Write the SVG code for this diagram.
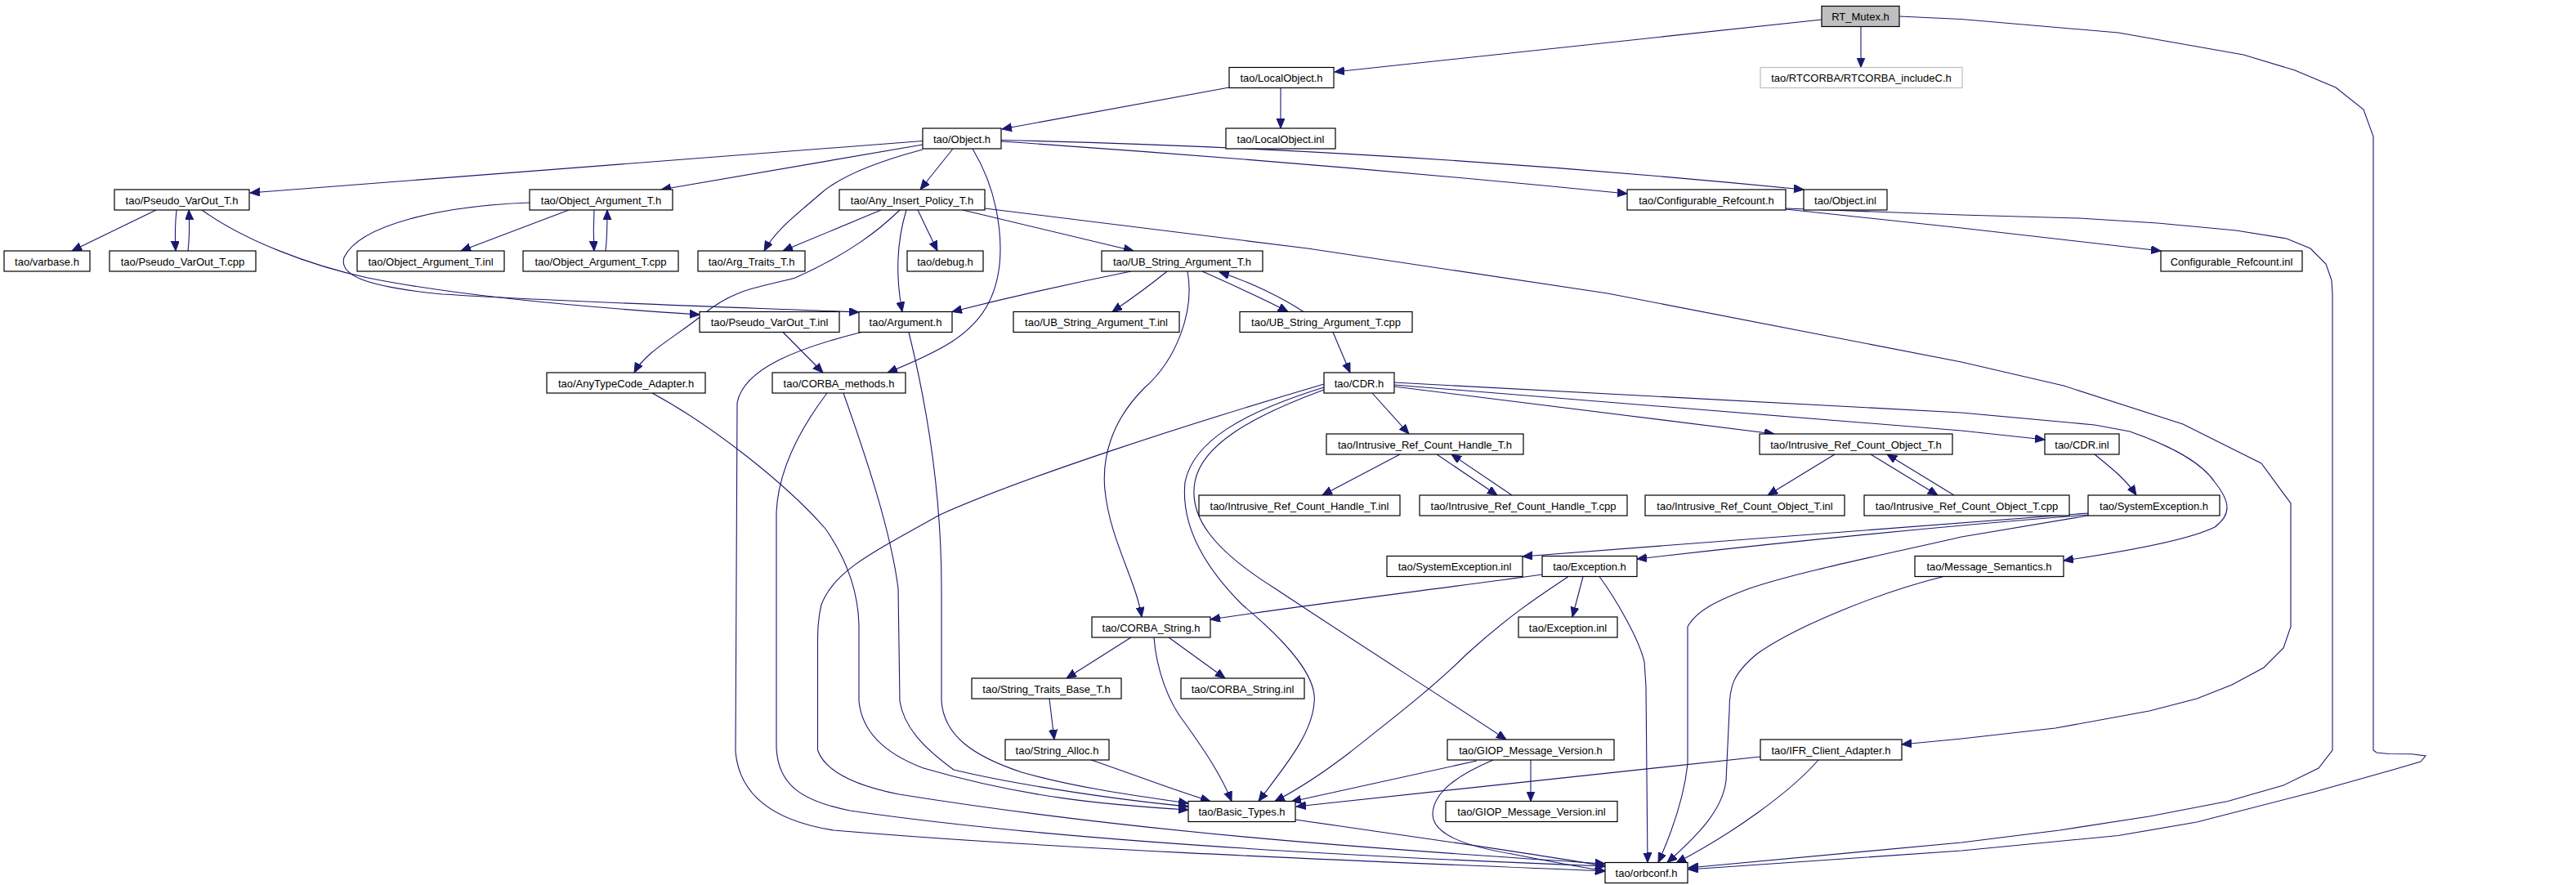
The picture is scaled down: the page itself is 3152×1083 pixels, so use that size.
<svg xmlns="http://www.w3.org/2000/svg" width="3152" height="1083" viewBox="0 0 3152 1083">
<defs>
<marker id="a" markerUnits="userSpaceOnUse" markerWidth="13" markerHeight="11" refX="12" refY="5" orient="auto">
<path d="M0,0 L12,5 L0,10 z" fill="#191970" stroke="#191970" stroke-width="1"/>
</marker>
</defs>
<style>
.n rect{fill:#ffffff;stroke:#000000;stroke-width:1.2}
.n text{font-family:"Liberation Sans",Arial,sans-serif;font-size:13px;text-anchor:middle;fill:#000000}
#edges path{fill:none;stroke:#191970;stroke-width:1.1;marker-end:url(#a)}
</style>
<rect x="0" y="0" width="3152" height="1083" fill="#ffffff"/>
<g id="edges">
<path d="M2229,24 L1633,88"/>
<path d="M2277,32.5 L2277,82.5"/>
<path d="M2324,20 L2400,23.5 L2592,40 L2745,67 L2808,86 L2858,107 L2892,134 L2904,167 L2904,918 L2908,921 L2923,922.5 L2951,922.7 L2968,925 L2962,932 L2928,942 L2832,969 L2688,1006 L2592,1022.5 L2400,1041 L2066,1064"/>
<path d="M1504,107 L1226,158"/>
<path d="M1567,107.5 L1567,157"/>
<path d="M1129,172.5 L306,236"/>
<path d="M1129,177 L809,232"/>
<path d="M1129,183 C1080,196 1030,214 1004,237 S950,280 935,307"/>
<path d="M1166,182 L1126,232"/>
<path d="M1190,182 C1225,240 1235,320 1210,370 C1190,410 1150,430 1086,456"/>
<path d="M1225,171.5 Q1700,182 2207,232"/>
<path d="M1225,173 Q1620,200 1991,237"/>
<path d="M191,257 L88,307"/>
<path d="M216,257 C214,275 214,290 215,307"/>
<path d="M230,307 C232,290 232,275 231,257"/>
<path d="M247,257 C300,295 380,325 450,340 C560,362 700,375 856,385"/>
<path d="M648,248 C540,252 440,275 421,315 C415,335 440,350 541,360 C700,370 900,376 1051,382"/>
<path d="M696,257 L564,307"/>
<path d="M727,257 C726,275 726,290 727,307"/>
<path d="M741,307 C743,290 743,275 743,257"/>
<path d="M1078,257 L958,307"/>
<path d="M1101,257 C1075,282 1040,310 973,340 C930,352 900,352 860,385 C830,410 790,430 776,456"/>
<path d="M1109,257 C1096,300 1096,340 1104,381.5"/>
<path d="M1123,257 L1147,307"/>
<path d="M1178,257 L1387,307"/>
<path d="M1205,255 L1600,304 L1967,359 L2400,443 L2525,472 L2671,519 L2767,567 L2803,616 L2803,767 L2794,793 L2770,817 L2731,838 L2688,855 L2630,870 L2515,891 L2400,904 L2327,911"/>
<path d="M2185,256 L2400,279 L2644,307"/>
<path d="M2185,255 L2400,263 L2544,267 L2640,273 L2736,282 L2798,292 L2827,304 L2846,323 L2853,343 L2854,360 L2854,918 L2837,940 L2794,961 L2726,980.5 L2630,999 L2520,1016 L2400,1031 L2066,1062"/>
<path d="M958,406.5 L1007,456"/>
<path d="M1054,406.5 C980,425 910,450 902,493 L900,920 C905,975 950,1005 1020,1016 C1300,1040 1700,1055 1964,1066"/>
<path d="M1112,406.5 C1140,520 1152,620 1152,720 L1152,858 C1155,900 1190,925 1250,945 C1320,965 1400,975 1454,983"/>
<path d="M798,481 C870,520 960,590 1010,647 C1040,690 1050,730 1051,764 L1051,858 C1055,900 1090,925 1130,940 C1250,975 1350,985 1454,991"/>
<path d="M1012,481 C975,530 952,580 950,627 L950,915 C952,960 980,980 1040,992 C1300,1030 1700,1050 1964,1060"/>
<path d="M1032,481 C1060,560 1090,650 1099,720 L1101,858 C1106,890 1130,915 1167,942 C1250,962 1380,980 1454,987"/>
<path d="M1620,470 C1450,520 1250,585 1150,630 C1060,680 1020,700 1005,740 C1000,760 1000.5,780 1000.5,800 L1000.5,918 C1010,945 1050,962 1100,972 C1400,1020 1700,1040 1964,1057"/>
<path d="M1620,474 C1520,505 1460,540 1450,590 C1445,640 1470,690 1520,740 C1580,790 1612,830 1608,860 C1605,900 1570,940 1540,980.5"/>
<path d="M1620,477 C1530,510 1470,545 1462,590 C1455,630 1480,670 1560,720 C1650,780 1760,850 1843,905"/>
<path d="M1679,481 L1724,531"/>
<path d="M1706,473 L2171,531"/>
<path d="M1706,471 L2400,527 L2502,538"/>
<path d="M1706,468 L2400,505 L2563,520 L2606,528 C2640,540 2690,560 2710,590 C2730,615 2730,630 2710,645 C2680,660 2600,675 2525,686"/>
<path d="M1384,332 Q1270,355 1165,381.5"/>
<path d="M1428,332 Q1400,355 1361,381.5"/>
<path d="M1453,332 C1462,380 1440,440 1400,475 C1360,515 1348,560 1352,600 C1358,660 1390,710 1397,755"/>
<path d="M1471,332 C1500,345 1545,365 1576,381.5"/>
<path d="M1595,381.5 C1570,365 1530,345 1492,333"/>
<path d="M1631,406.5 L1652,456"/>
<path d="M1713,556 L1618,606"/>
<path d="M1758,556 L1832,606"/>
<path d="M1850,606 L1776,556"/>
<path d="M2245,556 L2163,606"/>
<path d="M2289,556 L2371,606"/>
<path d="M2391,606 L2309,556"/>
<path d="M2563,556 C2580,570 2600,585 2614,606"/>
<path d="M2555,628 L1863,681"/>
<path d="M2555,630 Q2300,650 2003,684"/>
<path d="M2555,631 L2400,657 C2300,680 2200,700 2141,720 C2100,735 2075,748 2065,767 L2065,935 C2060,980 2045,1020 2029,1055.5"/>
<path d="M1887,703 C1750,722 1600,740 1481,758"/>
<path d="M1937,705.5 L1924,755"/>
<path d="M1957,705.5 C1975,730 2005,780 2012,810 L2014,840 L2016,1055.5"/>
<path d="M1919,705.5 C1890,725 1850,750 1794,801 C1750,845 1690,890 1650,922 C1620,945 1590,965 1560,980.5"/>
<path d="M2378,705.5 C2300,725 2200,765 2150,800 C2120,825 2116,840 2116,870 L2112,955 C2108,990 2080,1020 2040,1055.5"/>
<path d="M2225,930 C2190,970 2120,1020 2051,1056"/>
<path d="M2154,926 L1586,987"/>
<path d="M1873,930 L1873,980.5"/>
<path d="M1807,931 L1580,981"/>
<path d="M1827,930 C1780,950 1755,970 1753,995 C1752,1020 1790,1035 1850,1045 C1900,1055 1940,1062 1964,1066"/>
<path d="M1585,1003 C1700,1020 1850,1040 1964,1060"/>
<path d="M1384,780 L1305,830"/>
<path d="M1430,780 L1499,830"/>
<path d="M1412,780 C1415,820 1430,860 1450,885 C1475,920 1495,950 1507,980.5"/>
<path d="M1284,855 L1290,905"/>
<path d="M1335,930 C1380,945 1430,965 1481,980.5"/>
</g>
<g id="n_rtmutex" class="n"><rect x="2229" y="7.5" width="95" height="25" style="fill:#bfbfbf"/><text x="2276.5" y="25">RT_Mutex.h</text></g>
<g id="n_localobject_h" class="n"><rect x="1504" y="82.5" width="128" height="25"/><text x="1568" y="100">tao/LocalObject.h</text></g>
<g id="n_rtcorba" class="n"><rect x="2154" y="82.5" width="247" height="25" style="stroke:#bfbfbf"/><text x="2277.5" y="100">tao/RTCORBA/RTCORBA_includeC.h</text></g>
<g id="n_object_h" class="n"><rect x="1129" y="157" width="96" height="25"/><text x="1177" y="174.5">tao/Object.h</text></g>
<g id="n_localobject_inl" class="n"><rect x="1500" y="157" width="134" height="25"/><text x="1567" y="174.5">tao/LocalObject.inl</text></g>
<g id="n_pseudo_h" class="n"><rect x="140" y="232" width="165" height="25"/><text x="222.5" y="249.5">tao/Pseudo_VarOut_T.h</text></g>
<g id="n_objarg_h" class="n"><rect x="648" y="232" width="175" height="25"/><text x="735.5" y="249.5">tao/Object_Argument_T.h</text></g>
<g id="n_anyins_h" class="n"><rect x="1027" y="232" width="178" height="25"/><text x="1116" y="249.5">tao/Any_Insert_Policy_T.h</text></g>
<g id="n_confref_h" class="n"><rect x="1991" y="232" width="194" height="25"/><text x="2088" y="249.5">tao/Configurable_Refcount.h</text></g>
<g id="n_object_inl" class="n"><rect x="2207" y="232" width="102" height="25"/><text x="2258" y="249.5">tao/Object.inl</text></g>
<g id="n_varbase" class="n"><rect x="5" y="307" width="105" height="25"/><text x="57.5" y="324.5">tao/varbase.h</text></g>
<g id="n_pseudo_cpp" class="n"><rect x="134" y="307" width="179" height="25"/><text x="223.5" y="324.5">tao/Pseudo_VarOut_T.cpp</text></g>
<g id="n_objarg_inl" class="n"><rect x="437" y="307" width="180" height="25"/><text x="527" y="324.5">tao/Object_Argument_T.inl</text></g>
<g id="n_objarg_cpp" class="n"><rect x="640" y="307" width="190" height="25"/><text x="735" y="324.5">tao/Object_Argument_T.cpp</text></g>
<g id="n_argtraits" class="n"><rect x="854" y="307" width="131" height="25"/><text x="919.5" y="324.5">tao/Arg_Traits_T.h</text></g>
<g id="n_debug" class="n"><rect x="1110" y="307" width="93" height="25"/><text x="1156.5" y="324.5">tao/debug.h</text></g>
<g id="n_ubstr_h" class="n"><rect x="1348" y="307" width="197" height="25"/><text x="1446.5" y="324.5">tao/UB_String_Argument_T.h</text></g>
<g id="n_confref_inl" class="n"><rect x="2644" y="307" width="173" height="25"/><text x="2730.5" y="324.5">Configurable_Refcount.inl</text></g>
<g id="n_pseudo_inl" class="n"><rect x="856" y="381.5" width="171" height="25"/><text x="941.5" y="399">tao/Pseudo_VarOut_T.inl</text></g>
<g id="n_argument" class="n"><rect x="1051" y="381.5" width="114" height="25"/><text x="1108" y="399">tao/Argument.h</text></g>
<g id="n_ubstr_inl" class="n"><rect x="1240" y="381.5" width="203" height="25"/><text x="1341.5" y="399">tao/UB_String_Argument_T.inl</text></g>
<g id="n_ubstr_cpp" class="n"><rect x="1517" y="381.5" width="211" height="25"/><text x="1622.5" y="399">tao/UB_String_Argument_T.cpp</text></g>
<g id="n_anytc" class="n"><rect x="669" y="456" width="194" height="25"/><text x="766" y="473.5">tao/AnyTypeCode_Adapter.h</text></g>
<g id="n_corbameth" class="n"><rect x="945" y="456" width="163" height="25"/><text x="1026.5" y="473.5">tao/CORBA_methods.h</text></g>
<g id="n_cdr_h" class="n"><rect x="1620" y="456" width="86" height="25"/><text x="1663" y="473.5">tao/CDR.h</text></g>
<g id="n_irch_h" class="n"><rect x="1623" y="531" width="241" height="25"/><text x="1743.5" y="548.5">tao/Intrusive_Ref_Count_Handle_T.h</text></g>
<g id="n_irco_h" class="n"><rect x="2153" y="531" width="236" height="25"/><text x="2271" y="548.5">tao/Intrusive_Ref_Count_Object_T.h</text></g>
<g id="n_cdr_inl" class="n"><rect x="2502" y="531" width="91" height="25"/><text x="2547.5" y="548.5">tao/CDR.inl</text></g>
<g id="n_irch_inl" class="n"><rect x="1467" y="606" width="246" height="25"/><text x="1590" y="623.5">tao/Intrusive_Ref_Count_Handle_T.inl</text></g>
<g id="n_irch_cpp" class="n"><rect x="1737" y="606" width="254" height="25"/><text x="1864" y="623.5">tao/Intrusive_Ref_Count_Handle_T.cpp</text></g>
<g id="n_irco_inl" class="n"><rect x="2013" y="606" width="244" height="25"/><text x="2135" y="623.5">tao/Intrusive_Ref_Count_Object_T.inl</text></g>
<g id="n_irco_cpp" class="n"><rect x="2281" y="606" width="251" height="25"/><text x="2406.5" y="623.5">tao/Intrusive_Ref_Count_Object_T.cpp</text></g>
<g id="n_sysexc_h" class="n"><rect x="2555" y="606" width="161" height="25"/><text x="2635.5" y="623.5">tao/SystemException.h</text></g>
<g id="n_sysexc_inl" class="n"><rect x="1697" y="680.5" width="166" height="25"/><text x="1780" y="698">tao/SystemException.inl</text></g>
<g id="n_exc_h" class="n"><rect x="1887" y="680.5" width="116" height="25"/><text x="1945" y="698">tao/Exception.h</text></g>
<g id="n_msgsem" class="n"><rect x="2343" y="680.5" width="182" height="25"/><text x="2434" y="698">tao/Message_Semantics.h</text></g>
<g id="n_corbastr_h" class="n"><rect x="1336" y="755" width="145" height="25"/><text x="1408.5" y="772.5">tao/CORBA_String.h</text></g>
<g id="n_exc_inl" class="n"><rect x="1858" y="755" width="121" height="25"/><text x="1918.5" y="772.5">tao/Exception.inl</text></g>
<g id="n_strtraits" class="n"><rect x="1189" y="830" width="183" height="25"/><text x="1280.5" y="847.5">tao/String_Traits_Base_T.h</text></g>
<g id="n_corbastr_inl" class="n"><rect x="1445" y="830" width="151" height="25"/><text x="1520.5" y="847.5">tao/CORBA_String.inl</text></g>
<g id="n_stralloc" class="n"><rect x="1230" y="905" width="127" height="25"/><text x="1293.5" y="922.5">tao/String_Alloc.h</text></g>
<g id="n_giop_h" class="n"><rect x="1771" y="905" width="204" height="25"/><text x="1873" y="922.5">tao/GIOP_Message_Version.h</text></g>
<g id="n_ifr" class="n"><rect x="2154" y="905" width="173" height="25"/><text x="2240.5" y="922.5">tao/IFR_Client_Adapter.h</text></g>
<g id="n_basictypes" class="n"><rect x="1454" y="980.5" width="131" height="25"/><text x="1519.5" y="998">tao/Basic_Types.h</text></g>
<g id="n_giop_inl" class="n"><rect x="1769" y="980.5" width="210" height="25"/><text x="1874" y="998">tao/GIOP_Message_Version.inl</text></g>
<g id="n_orbconf" class="n"><rect x="1964" y="1055.5" width="101" height="25"/><text x="2014.5" y="1073">tao/orbconf.h</text></g>
</svg>
